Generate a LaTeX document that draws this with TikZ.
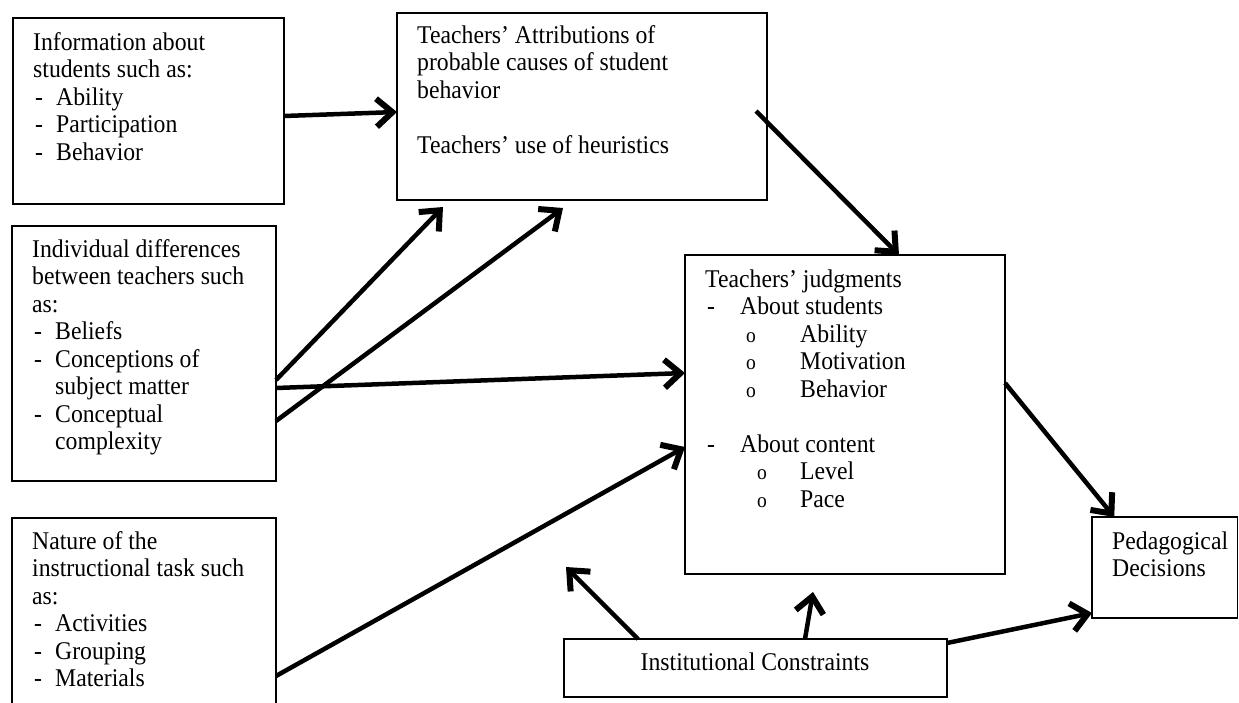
\documentclass[tikz,border=0pt]{standalone}
\usepackage{fontspec}
\setmainfont[FakeStretch=0.93]{Liberation Serif}
\usetikzlibrary{arrows.meta}

\newcommand{\dl}[1]{\hspace*{2pt}\makebox[21pt][l]{-}#1}
\newcommand{\cl}[1]{\hspace*{23pt}#1}
\newcommand{\jd}[1]{\hspace*{2pt}\makebox[33pt][l]{-}#1}
\newcommand{\bo}{{\fontsize{21}{21}\selectfont o}}
\newcommand{\joa}[1]{\hspace*{41pt}\makebox[54pt][l]{\bo}#1}
\newcommand{\job}[1]{\hspace*{52pt}\makebox[43pt][l]{\bo}#1}
\newcommand{\bodyfont}{\fontsize{25.5}{27.5}\selectfont}

\begin{document}
\begin{tikzpicture}[x=1pt,y=-1pt,
  box/.style={draw, line width=1.5pt, rectangle, inner sep=0pt, outer sep=0pt, anchor=north west},
  txt/.style={inner sep=0pt, anchor=base west, align=flush left, text width=#1, font=\bodyfont},
  txt/.default=250pt,
  arr/.style={line width=4.5pt, -{Straight Barb[length=16pt,width=28pt,line width=6pt]}}]

\clip (0,0) rectangle (1239,702);
\fill[white] (0,0) rectangle (1239,702);

% boxes
\node[box, minimum width=271pt, minimum height=186pt] (b1) at (13,18) {};
\node[box, minimum width=370pt, minimum height=187pt] (b2) at (397,13) {};
\node[box, minimum width=264pt, minimum height=255pt] (b3) at (12,226) {};
\node[box, minimum width=264pt, minimum height=250pt] (b4) at (12,518) {};
\node[box, minimum width=320pt, minimum height=319pt] (b5) at (685,255) {};
\node[box, minimum width=145.5pt, minimum height=101pt] (b6) at (1092,517) {};
\node[box, minimum width=383pt, minimum height=58pt] (b7) at (564,639) {};

% texts
\node[txt] (t1) at (33,50) {Information about\\students such as:\\\dl{Ability}\\\dl{Participation}\\\dl{Behavior}};
\node[txt=340pt] (t2) at (417,43) {Teachers’ Attributions of\\probable causes of student\\behavior\\[27.5pt]Teachers’ use of heuristics};
\node[txt=240pt] (t3) at (32,257) {Individual differences\\between teachers such\\as:\\\dl{Beliefs}\\\dl{Conceptions of}\\\cl{subject matter}\\\dl{Conceptual}\\\cl{complexity}};
\node[txt=240pt] (t4) at (32,549) {Nature of the\\instructional task such\\as:\\\dl{Activities}\\\dl{Grouping}\\\dl{Materials}};
\node[txt=290pt] (t5) at (705,287) {Teachers’ judgments\\\jd{About students}\\\joa{Ability}\\\joa{Motivation}\\\joa{Behavior}\\[27.5pt]\jd{About content}\\\job{Level}\\\job{Pace}};
\node[txt=120pt] (t6) at (1112,549) {Pedagogical\\Decisions};
\node[inner sep=0pt, anchor=base, font=\bodyfont] (t7) at (755,670) {Institutional Constraints};

% free ends
\coordinate (c2) at (443,207);
\coordinate (c3) at (563,208);
\coordinate (c6) at (756,111);
\coordinate (c9) at (813,592);
\coordinate (c10) at (566,567);

% connectors
\draw[arr] ([yshift=-5pt]b1.east) -- ([yshift=-5.5pt]b2.west);
\draw[arr] ([yshift=-26.5pt]b3.east) -- (c2);
\draw[arr] ([yshift=-67.5pt]b3.east) -- (c3);
\draw[arr] ([yshift=-34.5pt]b3.east) -- ([yshift=41.5pt]b5.west);
\draw[arr] ([yshift=-158pt]b4.north east) -- ([yshift=-32.5pt]b5.west);
\draw[arr] (c6) -- ([xshift=54pt]b5.north);
\draw[arr] ([yshift=31.5pt]b5.east) -- ([xshift=-50.5pt]b6.north);
\draw[arr] ([yshift=25pt]b7.east) -- ([yshift=-45.5pt]b6.west);
\draw[arr] ([xshift=49.5pt]b7.north) -- (c9);
\draw[arr] ([xshift=-117.5pt]b7.north) -- (c10);
\end{tikzpicture}
\end{document}
